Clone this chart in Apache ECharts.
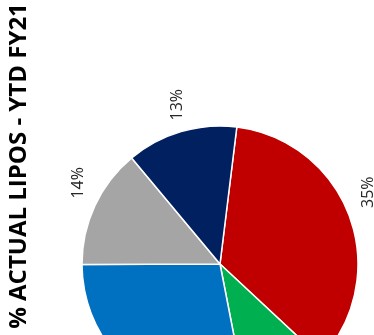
<!DOCTYPE html>
<html>
<head>
<meta charset="utf-8">
<script src="https://cdn.jsdelivr.net/npm/echarts@6/dist/echarts.min.js"></script>
<style>
  html, body { margin: 0; padding: 0; background: #fff; }
  #chart { width: 374px; height: 335px; }
</style>
</head>
<body>
<div id="chart"></div>
<script>
// 图表数据
const categories = ['Red', 'Green', 'Blue', 'Gray', 'Navy'];
const values = [35, 10, 28, 14, 13];
const colors = ['#C00000', '#00B050', '#0070C0', '#A5A5A5', '#002060'];
const titleText = '% ACTUAL LIPOS - YTD FY21';

const chart = echarts.init(document.getElementById('chart'));

// 标签微调 (红, 灰, 藏青); 偏移在旋转后的文字坐标系中
function labelNudge(idx) {
    if (idx === 0) return { dx: 15, dy: -8 };
    if (idx === 3) return { dx: 11, dy: 9 };
    if (idx === 4) return { dx: 0, dy: 4 };
    return { dx: 0, dy: 0 };
}

const option = {
    animation: false,
    graphic: [
        {
            type: 'text',
            x: 19,
            y: 166,
            rotation: Math.PI / 2,
            style: {
                text: titleText,
                fontFamily: 'Open Sans',
                fontWeight: 'bold',
                fontSize: 24,
                fill: '#000',
                align: 'center',
                verticalAlign: 'middle'
            }
        }
    ],
    series: [
        {
            type: 'pie',
            center: [220, 264],
            radius: 138,
            startAngle: 83,
            clockwise: true,
            data: categories.map(function(name, i) {
                return { name: name, value: values[i], itemStyle: { color: colors[i] } };
            }),
            itemStyle: {
                borderColor: '#fff',
                borderWidth: 1.5
            },
            label: {
                show: true,
                position: 'outside',
                rotate: 90,
                distanceToLabelLine: 0,
                formatter: function(p) { return p.value + '%'; },
                fontFamily: 'Open Sans',
                fontSize: 16,
                color: '#262626'
            },
            labelLine: { show: false, length: 28, length2: 0 },
            labelLayout: function(params) {
                const n = labelNudge(params.dataIndex);
                return {
                    align: 'center',
                    verticalAlign: 'middle',
                    dx: n.dx,
                    dy: n.dy
                };
            }
        }
    ]
};

chart.setOption(option);
</script>
</body>
</html>
